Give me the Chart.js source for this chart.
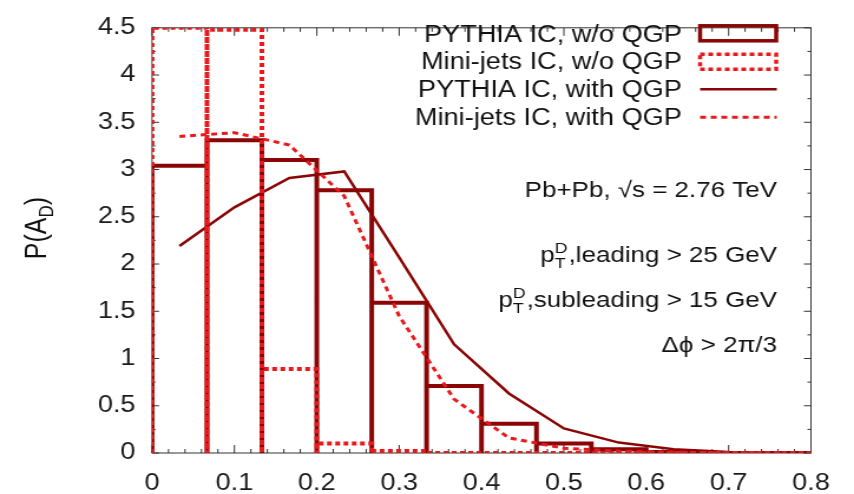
<!DOCTYPE html>
<html>
<head>
<meta charset="utf-8">
<script src="https://cdn.jsdelivr.net/npm/chart.js@4.4.1/dist/chart.umd.min.js"></script>
<style>
  html, body { margin: 0; padding: 0; background: #fff; overflow: hidden; }
  /* the source figure is stretched sideways, so the canvas is too */
  #wrap { width: 724px; height: 494px; transform: scaleX(1.1796); transform-origin: 0 0; }
</style>
</head>
<body>
<div id="wrap"><canvas id="adChart" width="724" height="494"></canvas></div>
<script>
// Data
const binEdges = [0, 0.0667, 0.1333, 0.2, 0.2667, 0.3333, 0.4, 0.4667, 0.5333, 0.6, 0.6667, 0.7333, 0.8];
const binCenters = [0.0333, 0.1, 0.1667, 0.2333, 0.3, 0.3667, 0.4333, 0.5, 0.5667, 0.6333, 0.7, 0.7667];
const pythiaNoQGP = [3.04, 3.31, 3.10, 2.78, 1.59, 0.71, 0.31, 0.10, 0.04, 0.01, 0, 0];
const miniNoQGP = [4.5, 4.48, 0.89, 0.10, 0.02, 0, 0, 0, 0, 0, 0, 0];
const pythiaQGP = [2.19, 2.60, 2.91, 2.98, 2.07, 1.15, 0.63, 0.26, 0.11, 0.04, 0.01, 0];
const miniQGP = [3.35, 3.39, 3.26, 2.72, 1.45, 0.57, 0.16, 0.05, 0.02, 0.01, 0, 0];
const seriesLabels = ['PYTHIA IC, w/o QGP', 'Mini-jets IC, w/o QGP', 'PYTHIA IC, with QGP', 'Mini-jets IC, with QGP'];
const xTickValues = [0, 0.1, 0.2, 0.3, 0.4, 0.5, 0.6, 0.7, 0.8];
const xTickLabels = ['0', '0.1', '0.2', '0.3', '0.4', '0.5', '0.6', '0.7', '0.8'];
const yTickValues = [0, 0.5, 1, 1.5, 2, 2.5, 3, 3.5, 4, 4.5];
const yTickLabels = ['0', '0.5', '1', '1.5', '2', '2.5', '3', '3.5', '4', '4.5'];

const DARK = '#8a0505';
const RED = '#e8191c';
const FONT = '"Liberation Sans", Arial, sans-serif';

// gnuplot style boxes: every bin gets its own outline down to zero
function boxOutline(vals) {
  const pts = [];
  vals.forEach((v, i) => {
    pts.push({ x: binEdges[i], y: 0 }, { x: binEdges[i], y: v },
             { x: binEdges[i + 1], y: v }, { x: binEdges[i + 1], y: 0 });
  });
  return pts;
}

function curve(vals) {
  return vals.map((v, i) => ({ x: binCenters[i], y: v }));
}

function drawPt(ctx, rest, right, base) {
  ctx.font = '22px ' + FONT;
  const wRest = ctx.measureText(rest).width;
  ctx.font = '15px ' + FONT;
  const wSS = Math.max(ctx.measureText('D').width, ctx.measureText('T').width);
  const xRest = right - wRest;
  const xSS = xRest - wSS - 1;
  ctx.textAlign = 'left';
  ctx.fillText('D', xSS, base - 9);
  ctx.fillText('T', xSS, base + 6);
  ctx.font = '22px ' + FONT;
  ctx.fillText(rest, xRest, base);
  ctx.textAlign = 'right';
  ctx.fillText('p', xSS, base);
}

const decorations = {
  id: 'decorations',
  beforeDatasetsDraw(chart) {
    const { ctx, chartArea: a, scales } = chart;
    const x = scales.x, y = scales.y;
    ctx.save();
    ctx.strokeStyle = '#333';
    ctx.lineWidth = 1;
    ctx.strokeRect(a.left, a.top, a.right - a.left, a.bottom - a.top);
    ctx.beginPath();
    for (let i = 0; i <= 40; i++) {
      const px = x.getPixelForValue(i * 0.02);
      const len = i % 5 === 0 ? 8 : 4;
      ctx.moveTo(px, a.bottom); ctx.lineTo(px, a.bottom - len);
      ctx.moveTo(px, a.top); ctx.lineTo(px, a.top + len);
    }
    for (let i = 0; i <= 18; i++) {
      const py = y.getPixelForValue(i * 0.25);
      const len = i % 2 === 0 ? 6 : 3;
      ctx.moveTo(a.left, py); ctx.lineTo(a.left + len, py);
      ctx.moveTo(a.right, py); ctx.lineTo(a.right - len, py);
    }
    ctx.stroke();
    ctx.restore();
  },
  afterDraw(chart) {
    const ctx = chart.ctx;
    ctx.save();
    ctx.fillStyle = '#111';
    ctx.textBaseline = 'alphabetic';

    // legend
    const rowBase = [41.7, 69.3, 97, 125];
    const rowMid = [33.3, 61.7, 89.3, 117.3];
    chart.data.datasets.forEach((ds, i) => {
      ctx.font = '23px ' + FONT;
      ctx.textAlign = 'right';
      ctx.fillStyle = '#111';
      ctx.fillText(ds.label, 578, rowBase[i]);
      ctx.strokeStyle = ds.borderColor;
      ctx.lineWidth = ds.kind === 'box' ? 3.5 : ds.borderWidth;
      ctx.setLineDash(ds.borderDash || []);
      if (ds.kind === 'box') {
        ctx.strokeRect(593.5, rowMid[i] - 7.5, 64.5, 15);
      } else {
        ctx.beginPath();
        ctx.moveTo(593.5, rowMid[i]);
        ctx.lineTo(658.5, rowMid[i]);
        ctx.stroke();
      }
    });
    ctx.setLineDash([]);

    // annotations
    ctx.fillStyle = '#111';
    ctx.font = '22px ' + FONT;
    ctx.textAlign = 'right';
    ctx.fillText('Pb+Pb, \u221As = 2.76 TeV', 658.7, 196.5);
    drawPt(ctx, ',leading > 25 GeV', 658.7, 261.7);
    drawPt(ctx, ',subleading > 15 GeV', 658.7, 306.7);
    ctx.font = '22px ' + FONT;
    ctx.textAlign = 'right';
    ctx.fillText('\u0394\u03D5 > 2\u03C0/3', 658.7, 351.5);

    // y title
    ctx.translate(38.5, 228);
    ctx.rotate(-Math.PI / 2);
    ctx.textAlign = 'left';
    ctx.font = '25px ' + FONT;
    const w1 = ctx.measureText('P(A').width;
    const w3 = ctx.measureText(')').width;
    ctx.font = '17px ' + FONT;
    const w2 = ctx.measureText('D').width;
    let sx = -(w1 + w2 + w3) / 2;
    ctx.font = '25px ' + FONT;
    ctx.fillText('P(A', sx, 0);
    ctx.font = '17px ' + FONT;
    ctx.fillText('D', sx + w1, 6);
    ctx.font = '25px ' + FONT;
    ctx.fillText(')', sx + w1 + w2, 0);
    ctx.restore();
  }
};

const common = { pointRadius: 0, pointHoverRadius: 0, tension: 0, fill: false,
                 borderJoinStyle: 'miter', borderCapStyle: 'butt' };

new Chart(document.getElementById('adChart'), {
  type: 'line',
  data: {
    datasets: [
      Object.assign({ label: seriesLabels[0], kind: 'box', data: boxOutline(pythiaNoQGP),
        borderColor: DARK, borderWidth: 4, order: 3 }, common),
      Object.assign({ label: seriesLabels[1], kind: 'box', data: boxOutline(miniNoQGP),
        borderColor: RED, borderWidth: 4, borderDash: [4, 3], order: 0 }, common),
      Object.assign({ label: seriesLabels[2], kind: 'line', data: curve(pythiaQGP),
        borderColor: DARK, borderWidth: 2.5, order: 2 }, common),
      Object.assign({ label: seriesLabels[3], kind: 'line', data: curve(miniQGP),
        borderColor: RED, borderWidth: 3, borderDash: [5, 4], order: 1 }, common)
    ]
  },
  options: {
    responsive: false,
    animation: false,
    events: [],
    layout: { padding: { top: 14, right: 36.5, left: 0, bottom: 0 } },
    plugins: { legend: { display: false }, tooltip: { enabled: false } },
    scales: {
      x: {
        type: 'linear',
        min: 0,
        max: 0.8,
        afterBuildTicks: s => { s.ticks = xTickValues.map(v => ({ value: v })); },
        afterFit: s => { s.height = 41; },
        ticks: {
          callback: (v, i) => xTickLabels[i],
          font: { family: FONT, size: 23 },
          color: '#1a1a1a',
          padding: 17,
          maxRotation: 0,
          autoSkip: false
        },
        grid: { display: false, drawTicks: false },
        border: { display: false }
      },
      y: {
        min: 0,
        max: 4.5,
        afterBuildTicks: s => { s.ticks = yTickValues.map(v => ({ value: v })); },
        afterFit: s => { s.width = 128.9; },
        ticks: {
          callback: (v, i) => yTickLabels[i],
          font: { family: FONT, size: 23 },
          color: '#1a1a1a',
          padding: 14,
          autoSkip: false
        },
        grid: { display: false, drawTicks: false },
        border: { display: false }
      }
    }
  },
  plugins: [decorations]
});
</script>
</body>
</html>
